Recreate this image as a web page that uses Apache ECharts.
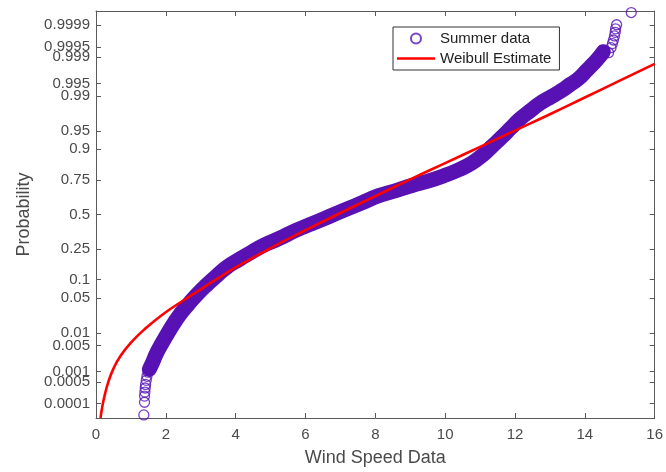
<!DOCTYPE html>
<html>
<head>
<meta charset="utf-8">
<script src="https://cdn.jsdelivr.net/npm/echarts@6/dist/echarts.min.js"></script>
<style>
html, body { margin: 0; padding: 0; background: #fff; }
#chart { width: 666px; height: 472px; }
</style>
</head>
<body>
<div id="chart"></div>
<script>
// probability ticks on the normal probability axis
const probTicks = [0.0001, 0.0005, 0.001, 0.005, 0.01, 0.05, 0.1, 0.25, 0.5,
  0.75, 0.9, 0.95, 0.99, 0.995, 0.999, 0.9995, 0.9999];

// summer data: [wind speed, normal quantile of plotting position]
const summerLow = [
  [1.37, -3.94], [1.39, -3.69], [1.39, -3.57], [1.40, -3.49], [1.41, -3.41],
  [1.42, -3.34], [1.44, -3.26], [1.46, -3.18], [1.49, -3.10]
];
const summerBand = [
  [1.53, -3.04], [1.62, -2.91], [1.73, -2.73], [1.88, -2.54], [2.05, -2.34],
  [2.22, -2.15], [2.42, -1.95], [2.65, -1.76], [2.91, -1.56], [3.16, -1.39],
  [3.45, -1.21], [3.76, -1.03], [4.11, -0.88], [4.45, -0.74], [4.82, -0.60],
  [5.25, -0.47], [5.73, -0.31], [6.19, -0.18], [6.68, -0.04], [7.16, 0.10],
  [7.62, 0.23], [8.10, 0.37], [8.59, 0.47], [9.05, 0.57], [9.53, 0.66],
  [9.96, 0.76], [10.39, 0.88], [10.76, 1.01], [11.08, 1.17], [11.36, 1.35],
  [11.62, 1.52], [11.88, 1.70], [12.13, 1.87], [12.42, 2.03], [12.73, 2.19],
  [13.05, 2.32], [13.34, 2.44], [13.59, 2.56], [13.82, 2.67], [14.05, 2.83],
  [14.25, 2.97], [14.42, 3.10], [14.53, 3.20]
];
const summerHigh = [
  [14.68, 3.18], [14.75, 3.28], [14.79, 3.36], [14.82, 3.43], [14.85, 3.51],
  [14.87, 3.58], [14.88, 3.65], [14.91, 3.73], [15.33, 3.97]
];

// weibull estimate: [wind speed, normal quantile]
const weibull = [
  [0.13, -4.0], [0.18, -3.78], [0.25, -3.55], [0.35, -3.30], [0.5, -3.03],
  [0.7, -2.78], [1.0, -2.52], [1.4, -2.25], [1.9, -1.97], [2.5, -1.69],
  [3.0, -1.47], [3.5, -1.25], [4.0, -1.04], [5.0, -0.66], [6.0, -0.31],
  [7.0, 0.03], [8.0, 0.36], [9.0, 0.69], [10.0, 1.01], [11.0, 1.33],
  [12.0, 1.65], [13.0, 1.97], [14.0, 2.3], [15.0, 2.63], [16.0, 2.96]
];

// inverse standard normal (Acklam) - probability axis transform
function norminv(p) {
  const a = [-3.969683028665376e+01, 2.209460984245205e+02, -2.759285104469687e+02,
    1.383577518672690e+02, -3.066479806614716e+01, 2.506628277459239e+00];
  const b = [-5.447609879822406e+01, 1.615858368580409e+02, -1.556989798598866e+02,
    6.680131188771972e+01, -1.328068155288572e+01];
  const c = [-7.784894002430293e-03, -3.223964580411365e-01, -2.400758277161838e+00,
    -2.549732539343734e+00, 4.374664141464968e+00, 2.938163982698783e+00];
  const d = [7.784695709041462e-03, 3.224671290700398e-01, 2.445134137142996e+00,
    3.754408661907416e+00];
  const pl = 0.02425;
  let q, r;
  if (p < pl) {
    q = Math.sqrt(-2 * Math.log(p));
    return (((((c[0] * q + c[1]) * q + c[2]) * q + c[3]) * q + c[4]) * q + c[5]) /
      ((((d[0] * q + d[1]) * q + d[2]) * q + d[3]) * q + 1);
  }
  if (p <= 1 - pl) {
    q = p - 0.5;
    r = q * q;
    return (((((a[0] * r + a[1]) * r + a[2]) * r + a[3]) * r + a[4]) * r + a[5]) * q /
      (((((b[0] * r + b[1]) * r + b[2]) * r + b[3]) * r + b[4]) * r + 1);
  }
  q = Math.sqrt(-2 * Math.log(1 - p));
  return -(((((c[0] * q + c[1]) * q + c[2]) * q + c[3]) * q + c[4]) * q + c[5]) /
    ((((d[0] * q + d[1]) * q + d[2]) * q + d[3]) * q + 1);
}

const zTicks = probTicks.map(norminv);
function probLabel(v) {
  for (let i = 0; i < zTicks.length; i++) {
    if (Math.abs(zTicks[i] - v) < 1e-6) return String(probTicks[i]);
  }
  return '';
}

const FONT = 'Liberation Sans, Arial, sans-serif';
const AXIS_COLOR = '#5a5a5a';
const TEXT_COLOR = '#4a4a4a';
const PURPLE = '#5812b4';

const chart = echarts.init(document.getElementById('chart'));

const axisLine = { show: true, onZero: false, lineStyle: { color: AXIS_COLOR, width: 1 } };
const tick = { show: true, inside: true, length: 5, lineStyle: { color: AXIS_COLOR } };

const option = {
  animation: false,
  textStyle: { fontFamily: FONT },
  grid: { left: 96, right: 10, top: 11, bottom: 51 },
  legend: {
    data: [
      { name: 'Summer data' },
      { name: 'Weibull Estimate', icon: 'path://M0,0 H38 V2.6 H0 Z' }
    ],
    orient: 'vertical',
    left: 393,
    top: 27,
    padding: [4, 8, 4, 4],
    itemWidth: 38,
    itemHeight: 10,
    itemGap: 5,
    borderColor: '#333',
    borderWidth: 1,
    backgroundColor: '#fff',
    borderRadius: 0,
    textStyle: { fontSize: 15, color: '#222', fontFamily: FONT }
  },
  xAxis: [
    {
      type: 'value', min: 0, max: 16, interval: 2,
      name: 'Wind Speed Data', nameLocation: 'middle', nameGap: 31,
      nameTextStyle: { fontSize: 18, color: TEXT_COLOR },
      axisLine: axisLine, axisTick: tick, splitLine: { show: false },
      axisLabel: { fontSize: 15, color: TEXT_COLOR, margin: 9 }
    },
    {
      type: 'value', min: 0, max: 16, interval: 2, position: 'top',
      axisLine: axisLine, axisTick: tick, splitLine: { show: false },
      axisLabel: { show: false }
    }
  ],
  yAxis: [
    {
      type: 'value', min: -4, max: 4,
      name: 'Probability', nameLocation: 'middle', nameGap: 63,
      nameTextStyle: { fontSize: 18, color: TEXT_COLOR },
      axisLine: axisLine, splitLine: { show: false },
      axisTick: Object.assign({ customValues: zTicks }, tick),
      axisLabel: {
        customValues: zTicks, fontSize: 15, color: TEXT_COLOR, margin: 6,
        formatter: probLabel
      }
    },
    {
      type: 'value', min: -4, max: 4, position: 'right',
      axisLine: axisLine, splitLine: { show: false },
      axisTick: Object.assign({ customValues: zTicks }, tick),
      axisLabel: { show: false }
    }
  ],
  series: [
    {
      // dense body of the summer sample
      name: 'band',
      type: 'line',
      data: summerBand,
      smooth: true,
      symbol: 'none',
      silent: true,
      lineStyle: { color: PURPLE, width: 15, cap: 'round', join: 'round' },
      z: 1
    },
    {
      name: 'Summer data',
      type: 'scatter',
      data: summerLow.concat(summerBand, summerHigh),
      symbol: 'circle',
      symbolSize: 10,
      itemStyle: { color: 'rgba(0,0,0,0)', borderColor: PURPLE, borderWidth: 1.3 },
      z: 2
    },
    {
      name: 'Weibull Estimate',
      type: 'line',
      data: weibull,
      smooth: true,
      showSymbol: false,
      lineStyle: { color: '#ff0000', width: 2.6 },
      itemStyle: { color: '#ff0000' },
      z: 3
    }
  ]
};

chart.setOption(option);
</script>
</body>
</html>
